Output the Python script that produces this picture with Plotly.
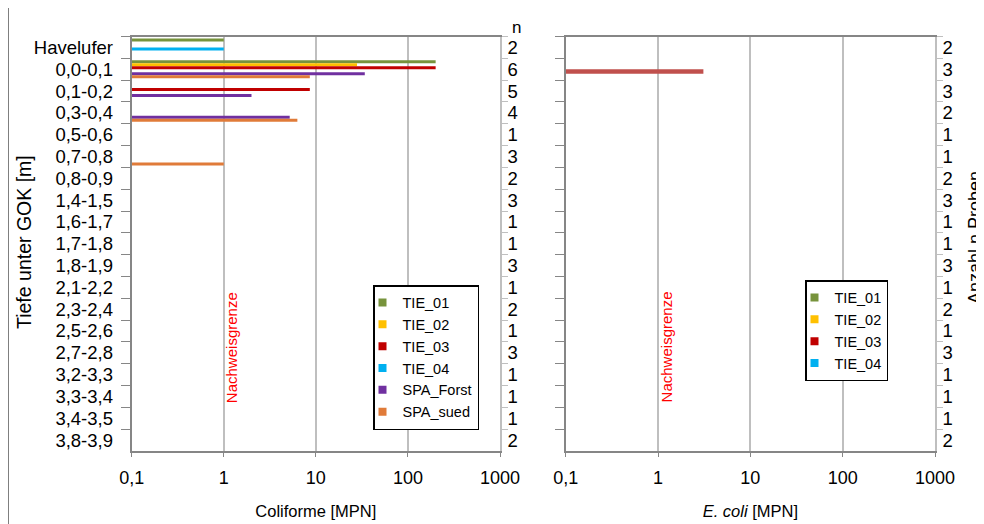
import plotly.graph_objects as go
import math

categories = ["Havelufer", "0,0-0,1", "0,1-0,2", "0,3-0,4", "0,5-0,6", "0,7-0,8",
              "0,8-0,9", "1,4-1,5", "1,6-1,7", "1,7-1,8", "1,8-1,9", "2,1-2,2",
              "2,3-2,4", "2,5-2,6", "2,7-2,8", "3,2-3,3", "3,3-3,4", "3,4-3,5", "3,8-3,9"]

n_coliforme = [2, 6, 5, 4, 1, 3, 2, 3, 1, 1, 3, 1, 2, 1, 3, 1, 1, 1, 2]
n_ecoli = [2, 3, 3, 2, 1, 1, 2, 3, 1, 1, 3, 1, 2, 1, 3, 1, 1, 1, 2]

N = None
coli_TIE_01 = [1, 200, N, N, N, N, N, N, N, N, N, N, N, N, N, N, N, N, N]
coli_TIE_02 = [N, 28, N, N, N, N, N, N, N, N, N, N, N, N, N, N, N, N, N]
coli_TIE_03 = [N, 200, 8.6, N, N, N, N, N, N, N, N, N, N, N, N, N, N, N, N]
coli_TIE_04 = [1, N, N, N, N, N, N, N, N, N, N, N, N, N, N, N, N, N, N]
coli_SPA_Forst = [N, 34, 2, 5.2, N, N, N, N, N, N, N, N, N, N, N, N, N, N, N]
coli_SPA_sued = [N, 8.6, N, 6.3, N, 1, N, N, N, N, N, N, N, N, N, N, N, N, N]

ecoli_TIE_01 = [N] * 19
ecoli_TIE_02 = [N] * 19
ecoli_TIE_03 = [N, 3.1, N, N, N, N, N, N, N, N, N, N, N, N, N, N, N, N, N]
ecoli_TIE_04 = [N] * 19

x_tickvals = [0.1, 1, 10, 100, 1000]
x_ticktext = ["0,1", "1", "10", "100", "1000"]
nachweisgrenze = 1

FONT = "Liberation Sans, Arial, sans-serif"
W, H = 984, 524
OFF = 8  # page body margin offset

def px_x(p):
    return (p - OFF) / W

def px_y(p):
    return 1 - (p - OFF) / H

left_series = [
    ("TIE_01", coli_TIE_01, "#77933C"),
    ("TIE_02", coli_TIE_02, "#FFC000"),
    ("TIE_03", coli_TIE_03, "#C00000"),
    ("TIE_04", coli_TIE_04, "#00B0F0"),
    ("SPA_Forst", coli_SPA_Forst, "#7030A0"),
    ("SPA_sued", coli_SPA_sued, "#E07B39"),
]
right_series = [
    ("TIE_01", ecoli_TIE_01, "#77933C"),
    ("TIE_02", ecoli_TIE_02, "#FFC000"),
    ("TIE_03", ecoli_TIE_03, "#C0504D"),
    ("TIE_04", ecoli_TIE_04, "#00B0F0"),
]
legend_colors_right = {"TIE_01": "#77933C", "TIE_02": "#FFC000",
                       "TIE_03": "#C00000", "TIE_04": "#00B0F0"}

fig = go.Figure()
for name, vals, col in left_series:
    fig.add_trace(go.Bar(x=vals, y=categories, orientation="h", name=name,
                         marker=dict(color=col, line=dict(width=0)),
                         xaxis="x", yaxis="y", showlegend=False))
for name, vals, col in right_series:
    fig.add_trace(go.Bar(x=vals, y=categories, orientation="h", name=name,
                         marker=dict(color=col, line=dict(width=0)),
                         xaxis="x2", yaxis="y3", showlegend=False))

# legend entries (small square keys as in the reference)
for name, vals, col in left_series:
    fig.add_trace(go.Scatter(x=[None], y=[None], mode="markers", name=name,
                             marker=dict(symbol="square", size=8, color=col),
                             xaxis="x", yaxis="y", legend="legend", hoverinfo="skip"))
for name, vals, col in right_series:
    fig.add_trace(go.Scatter(x=[None], y=[None], mode="markers", name=name,
                             marker=dict(symbol="square", size=8, color=legend_colors_right[name]),
                             xaxis="x2", yaxis="y3", legend="legend2", hoverinfo="skip"))

# invisible helper traces that register the categories on the "n" axes
for ya, xa in (("y2", "x"), ("y4", "x2")):
    fig.add_trace(go.Scatter(x=[None] * len(categories), y=categories, mode="markers",
                             xaxis=xa, yaxis=ya, showlegend=False, hoverinfo="skip"))

yrange = [len(categories) - 0.5, -0.5]

x_dom_l = [px_x(131.7), px_x(500)]
x_dom_r = [px_x(565.7), px_x(935)]
y_dom = [px_y(451), px_y(36.5)]

grid = "#BFBFBF"
axc = "#868686"

def xaxis(dom, anchor, title):
    return dict(domain=dom, anchor=anchor, type="log", range=[-1, 3], automargin=False,
                tickmode="array", tickvals=x_tickvals, ticktext=x_ticktext,
                showgrid=True, gridcolor=grid, gridwidth=1.5,
                showline=True, linecolor=axc, linewidth=1.5, mirror=True,
                ticks="outside", ticklen=4, tickcolor=axc,
                tickfont=dict(family=FONT, size=18, color="#000"),
                ticklabelstandoff=6,
                title=dict(text=title, font=dict(family=FONT, size=16.5, color="#000"), standoff=18),
                zeroline=False)

def ycat(dom, anchor, labels):
    return dict(domain=dom, anchor=anchor, type="category", categoryorder="array",
                categoryarray=categories, range=yrange, tickson="boundaries", automargin=False,
                tickmode="linear", tick0=0, dtick=1,
                ticks="outside", ticklen=9, tickcolor=axc, tickwidth=1,
                showline=True, linecolor=axc, linewidth=2, showgrid=False,
                showticklabels=labels, ticklabelstandoff=13,
                tickfont=dict(family=FONT, size=18.5, color="#000"))

def ynum(overlay, anchor, ntext):
    return dict(overlaying=overlay, anchor=anchor, side="right", type="category",
                categoryorder="array", categoryarray=categories, range=yrange,
                tickson="boundaries", automargin=False,
                tickmode="linear", tick0=0, dtick=1,
                labelalias={c: str(v) for c, v in zip(categories, ntext)},
                ticks="outside", ticklen=6, tickcolor=grid,
                showline=True, linecolor=grid, linewidth=1.5,
                showgrid=False, zeroline=False, ticklabelstandoff=2,
                tickfont=dict(family=FONT, size=18.5, color="#000"))

fig.update_layout(
    width=W, height=H, autosize=False,
    margin=dict(l=0, r=0, t=0, b=0, pad=0),
    paper_bgcolor="white", plot_bgcolor="white",
    barmode="group", bargap=0.18, bargroupgap=0,
    showlegend=True,
    xaxis=xaxis(x_dom_l, "y", "Coliforme [MPN]"),
    xaxis2=xaxis(x_dom_r, "y3", "<i>E. coli</i> [MPN]"),
    yaxis=ycat(y_dom, "x", True),
    yaxis2=ynum("y", "x", n_coliforme),
    yaxis3=ycat(y_dom, "x2", False),
    yaxis4=ynum("y3", "x2", n_ecoli),
    legend=dict(x=px_x(373), y=px_y(285), xanchor="left", yanchor="top",
                bordercolor="#000", borderwidth=1.5, bgcolor="white", indentation=-12,
                itemsizing="trace",
                font=dict(family=FONT, size=14.5, color="#000")),
    legend2=dict(x=px_x(805), y=px_y(280), xanchor="left", yanchor="top",
                 bordercolor="#000", borderwidth=1.5, bgcolor="white", indentation=-12,
                 itemsizing="trace",
                 font=dict(family=FONT, size=14.5, color="#000")),
    font=dict(family=FONT),
)

lx = math.log10(nachweisgrenze)
for xr, yr in (("x", "y domain"), ("x2", "y3 domain")):
    fig.add_shape(type="line", xref=xr, yref=yr, x0=lx, x1=lx, y0=0, y1=1,
                  line=dict(color="#FF0000", width=1.5, dash="4px,2px"))
    fig.add_annotation(xref=xr, yref=yr, x=lx, y=0.25, text="Nachweisgrenze",
                       textangle=-90, showarrow=False, xshift=8,
                       xanchor="center", yanchor="middle",
                       font=dict(family=FONT, size=15, color="#FF0000"))

fig.add_shape(type="line", xref="paper", yref="paper", x0=px_x(8), x1=px_x(8), y0=0, y1=1,
              line=dict(color="#000", width=1))

fig.add_annotation(xref="paper", yref="paper", x=px_x(516), y=px_y(28), text="n",
                   showarrow=False, xanchor="center", yanchor="middle",
                   font=dict(family=FONT, size=17, color="#000"))
fig.add_annotation(xref="paper", yref="paper", x=px_x(24), y=px_y(242),
                   text="Tiefe unter GOK [m]", textangle=-90, showarrow=False,
                   xanchor="center", yanchor="middle",
                   font=dict(family=FONT, size=19.5, color="#000"))
fig.add_annotation(xref="paper", yref="paper", x=px_x(975), y=px_y(238),
                   text="Anzahl n Proben", textangle=-90, showarrow=False,
                   xanchor="center", yanchor="middle",
                   font=dict(family=FONT, size=18, color="#000"))

fig.write_html("out.html")
